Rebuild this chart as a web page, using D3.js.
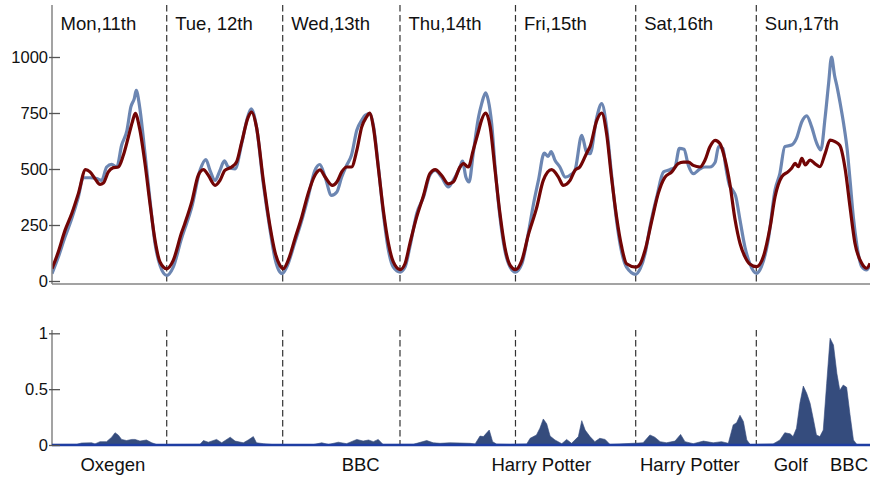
<!DOCTYPE html>
<html>
<head>
<meta charset="utf-8">
<script src="https://cdn.jsdelivr.net/npm/d3@7"></script>
<style>
  html, body { margin: 0; padding: 0; background: #fff; }
  svg { display: block; font-family: "Liberation Sans", Arial, Helvetica, sans-serif; }
</style>
</head>
<body>
<svg id="chart" width="870" height="477"></svg>
<script>
// Hours since the start of the week (Mon) where each new day begins
const dayStarts = [0, 23.56, 47.38, 71.47, 95.19, 119.88, 144.65];
const dayLabels = ["Mon,11th", "Tue, 12th", "Wed,13th", "Thu,14th", "Fri,15th", "Sat,16th", "Sun,17th"];

// Observed activity, [hour, value]
const observed = [
  [0,33],[1.3,107],[2.67,196],[4.04,278],[5.41,375],[6.43,461],[7.8,461],[9.17,457],[10.2,449],
  [11.23,509],[12.26,521],[13.3,509],[14.3,606],[15.4,673],[16.2,777],[16.9,814],[17.3,851],
  [18.0,777],[19.1,568],[20.13,360],[21.16,167],[22.18,70],[23.55,25],
  [24.9,62],[26.6,190],[27.3,235],[28.7,330],[30.4,494],[31.6,542],[32.45,494],[33.5,449],
  [34.5,494],[35.4,536],[36.2,509],[37.6,501],[38.96,613],[40.0,717],[40.9,769],[42.0,687],
  [43.4,434],[44.8,226],[45.8,100],[46.8,40],[47.3,33],[48.2,62],[49.9,174],[51.3,271],
  [52.6,375],[54.0,494],[55.0,520],
  [56.1,464],[57.4,382],[58.5,397],[59.5,464],[60.5,516],[61.5,561],[62.6,673],[63.6,717],
  [64.3,740],[65.3,747],[66.0,695],[67.0,516],[68.05,301],[69.1,137],[70.1,62],[71.5,40],
  [72.5,62],[73.5,152],[74.9,301],[76.3,375],[77.6,472],[78.7,494],[80.0,464],[81.4,420],
  [82.4,449],[83.8,509],[84.3,535],[85.0,464],[85.65,442],[86.5,568],[87.6,732],[88.25,792],
  [89.07,840],[89.6,807],[90.3,702],[91.0,509],[92.0,286],[93.0,137],[94.1,62],[95.2,40],
  [96.5,77],[97.8,211],[98.9,345],[99.9,449],[101.1,571],[101.9,556],[102.5,578],[103.3,539],
  [104.3,509],[105.4,464],[106.4,472],[107.4,494],[108.8,650],[109.8,575],[110.5,568],
  [111.9,732],[112.9,792],[113.9,687],[114.9,479],[115.9,278],[117.0,129],[118.0,62],
  [119.9,30],[120.8,55],[121.8,122],[122.8,241],[124.2,375],[125.6,487],[126.9,497],
  [127.95,509],[128.85,592],[129.8,588],[130.7,516],[131.7,479],[133.1,501],[134.1,509],
  [135.1,509],[136.2,530],[136.9,600],[137.8,592],[138.3,520],[139.1,430],[139.8,405],
  [140.4,380],[141.3,272],[142.3,153],[143.3,79],[144.7,34],
  [145.7,64],[147.1,183],[148.5,406],[149.5,481],[150.5,600],[151.9,607],[152.9,637],
  [154.0,711],[155.0,737],[156.0,689],[157.05,615],[157.9,585],[158.8,734],[159.5,882],
  [160.1,1000],[160.7,920],[161.3,860],[161.9,790],[162.6,700],[163.3,590],[163.9,450],
  [164.6,280],[165.3,160],[166.3,64],[167.3,49],[168,71]
];

// Expected (baseline) activity, [hour, value]
const expected = [
  [0,55],[1.3,130],[2.67,226],[4.04,300],[5.41,390],[6.9,497],[7.8,487],[8.83,457],[9.86,431],
  [10.54,437],[11.57,487],[12.6,506],[13.62,509],[14.65,561],[15.68,643],[16.5,710],[17.1,748],
  [18.0,680],[19.1,524],[20.13,345],[21.16,182],[22.18,85],[23.55,55],
  [24.9,92],[26.6,215],[27.3,258],[28.7,353],[30.05,472],[31.1,497],[32.1,472],[33.5,427],
  [34.5,449],[35.5,494],[36.9,509],[37.9,531],[38.96,620],[40.3,732],[41.0,754],[42.0,687],
  [43.4,449],[44.8,241],[45.8,129],[46.8,70],[47.5,55],[48.5,92],[49.9,189],[51.3,286],
  [52.6,390],[54.0,472],[55.04,496],
  [56.1,464],[57.6,427],[58.5,442],[59.5,487],[60.5,509],[61.5,509],[62.6,583],[63.6,687],
  [64.6,732],[65.2,750],[66.0,687],[67.0,509],[68.05,315],[69.1,167],[70.1,85],[71.5,51],
  [72.5,77],[73.5,167],[74.9,286],[76.3,382],[77.6,479],[78.7,497],[80.0,472],[81.4,434],
  [82.4,442],[83.8,509],[84.5,524],[85.5,509],[86.5,583],[87.55,665],[88.2,717],[89.07,750],
  [90.0,687],[91.0,494],[92.0,301],[93.0,152],[94.1,70],[95.2,51],
  [96.5,92],[97.8,204],[99.5,324],[100.9,449],[102.6,497],[104.0,464],[105.0,427],[106.4,449],
  [107.4,494],[108.4,509],[109.9,575],[110.5,600],[111.9,717],[112.9,750],[113.9,658],
  [114.9,464],[115.95,286],[117.0,152],[118.0,77],[119.9,62],
  [120.8,77],[121.8,137],[123.2,271],[124.5,390],[125.9,464],[127.3,487],[128.6,524],
  [129.7,531],[130.7,531],[131.7,516],[133.1,509],[134.1,539],[135.1,598],[136.2,628],
  [137.2,613],[138.2,545],[139.2,436],[140.3,272],[141.3,168],[142.3,109],[143.3,76],[144.7,64],
  [146.1,109],[147.5,243],[148.5,376],[149.9,466],[151.2,488],[151.9,503],[152.6,525],
  [153.3,510],[154.0,548],[154.7,518],[155.7,540],[156.8,522],[157.7,510],[158.8,570],
  [159.8,629],[160.8,622],[161.8,605],
  [162.9,500],[163.9,330],[164.9,170],[166.3,79],[167.3,57],[168,79]
];

// Anomaly score, [hour, value]
const anomaly = [
  [0,0.005],[5.07,0.006],[6.1,0.018],[8.15,0.02],[8.83,0.01],[9.86,0.03],[11.2,0.03],[12.26,0.07],
  [12.94,0.11],[13.6,0.09],[14.3,0.05],[15.3,0.04],[16.4,0.05],[17.05,0.05],[18.07,0.035],
  [19.4,0.045],[20.5,0.02],[21.5,0.004],[30.4,0.006],[31.1,0.04],[32.1,0.025],[33.8,0.05],
  [34.85,0.02],[36.6,0.07],[37.6,0.035],[39.3,0.02],[40.3,0.045],[41.35,0.075],[42.0,0.02],
  [43.4,0.012],[45.5,0.003],[53.7,0.004],[55.4,0.02],[56.8,0.005],[58.8,0.025],[60.5,0.012],
  [62.6,0.05],[63.9,0.035],[65.0,0.045],[66.0,0.03],[67.0,0.05],[68.0,0.005],[74.2,0.006],
  [74.9,0.015],[76.96,0.04],[78.3,0.02],[79.7,0.015],[81.7,0.02],[83.8,0.018],[85.85,0.015],
  [86.9,0.01],[87.9,0.08],[88.6,0.075],[89.1,0.10],[89.8,0.134],[90.5,0.03],[91.3,0.008],
  [94.1,0.005],[97.5,0.01],[98.2,0.06],[99.5,0.09],[100.2,0.15],[100.9,0.233],[101.6,0.19],
  [102.3,0.08],[103.3,0.045],[104.7,0.012],[105.7,0.05],[106.7,0.015],[108.1,0.075],
  [108.8,0.218],[109.5,0.134],[110.5,0.075],[111.5,0.03],[112.5,0.06],[113.6,0.05],
  [114.6,0.005],[121.4,0.02],[122.8,0.09],[123.8,0.07],[124.9,0.03],[126.2,0.02],[127.95,0.035],
  [129.1,0.095],[130.0,0.03],[131.7,0.012],[133.8,0.035],[135.8,0.02],[137.5,0.03],[138.9,0.015],
  [139.9,0.18],[140.6,0.2],[141.3,0.266],[142.0,0.21],[142.7,0.045],[143.4,0.004],[148.1,0.01],
  [149.5,0.045],[150.5,0.11],[151.6,0.10],[152.2,0.075],[152.9,0.15],[153.6,0.373],[154.3,0.528],
  [155.0,0.463],[155.7,0.373],[156.4,0.224],[157.0,0.09],[157.7,0.075],[158.4,0.134],
  [159.1,0.55],[159.8,0.955],[160.5,0.895],[161.2,0.64],[161.8,0.49],[162.5,0.537],
  [163.2,0.516],[163.9,0.27],[164.6,0.045],[165.3,0.005],[168,0.003]
];

// Event annotations under the lower panel, [hour at label centre, text]
const events = [[12.5,"Oxegen"],[63.4,"BBC"],[100.5,"Harry Potter"],[131.0,"Harry Potter"],[151.7,"Golf"],[163.7,"BBC"]];

const topTicks = [0, 250, 500, 750, 1000];
const bottomTicks = [0, 0.5, 1];

const svg = d3.select("#chart");
const x = d3.scaleLinear().domain([0, 168]).range([52, 870]);
const yTop = d3.scaleLinear().domain([0, 1000]).range([281, 57]);
const yBot = d3.scaleLinear().domain([0, 1]).range([445, 333.3]);

const axisColor = "#858585";

svg.append("defs").append("clipPath").attr("id", "plotClip")
  .append("rect").attr("x", 52).attr("y", 0).attr("width", 818).attr("height", 477);

// ---------- upper panel ----------
const upper = svg.append("g");

// day dividers
upper.selectAll("line.div").data(dayStarts.slice(1)).join("line")
  .attr("x1", d => x(d)).attr("x2", d => x(d))
  .attr("y1", 5).attr("y2", 284)
  .attr("stroke", "#333").attr("stroke-width", 1.2).attr("stroke-dasharray", "6.5,3.5");

// day labels
upper.selectAll("text.day").data(dayStarts).join("text")
  .attr("x", d => x(d) + 8.5).attr("y", 29.5)
  .attr("font-size", "18.5px").attr("fill", "#111")
  .text((d, i) => dayLabels[i]);

const lineTop = d3.line().x(d => x(d[0])).y(d => yTop(d[1])).curve(d3.curveMonotoneX);
const lines = upper.append("g").attr("clip-path", "url(#plotClip)");
lines.append("path").datum(observed).attr("d", lineTop)
  .attr("fill", "none").attr("stroke", "#6c86b2").attr("stroke-width", 3.2)
  .attr("stroke-linejoin", "round");
lines.append("path").datum(expected).attr("d", lineTop)
  .attr("fill", "none").attr("stroke", "#720505").attr("stroke-width", 3.2)
  .attr("stroke-linejoin", "round");

// axes
upper.append("line").attr("x1", 52).attr("x2", 52).attr("y1", 5).attr("y2", 284)
  .attr("stroke", axisColor).attr("stroke-width", 1.5);
upper.append("line").attr("x1", 52).attr("x2", 870).attr("y1", 284).attr("y2", 284)
  .attr("stroke", axisColor).attr("stroke-width", 1.5);

const axTop = upper.append("g").attr("transform", "translate(52,0)")
  .call(d3.axisLeft(yTop).tickValues(topTicks).tickFormat(d3.format("d"))
    .tickSizeInner(-8).tickSizeOuter(0).tickPadding(4));
axTop.select(".domain").remove();
axTop.selectAll(".tick line").attr("x1", -3).attr("x2", 8).attr("stroke", "#555").attr("stroke-width", 1.3);
axTop.selectAll(".tick text").attr("font-size", "16.5px").attr("fill", "#111")
  .attr("font-family", "Liberation Sans, Arial, sans-serif");

// ---------- lower panel ----------
const lower = svg.append("g");

lower.selectAll("line.div").data(dayStarts.slice(1)).join("line")
  .attr("x1", d => x(d)).attr("x2", d => x(d))
  .attr("y1", 330).attr("y2", 445)
  .attr("stroke", "#333").attr("stroke-width", 1.2).attr("stroke-dasharray", "6.5,3.5");

const area = d3.area().x(d => x(d[0])).y0(yBot(0)).y1(d => yBot(d[1])).curve(d3.curveLinear);
lower.append("path").datum(anomaly).attr("d", area)
  .attr("clip-path", "url(#plotClip)")
  .attr("fill", "#354c7d").attr("stroke", "#354c7d").attr("stroke-width", 0.6);

lower.append("line").attr("x1", 52).attr("x2", 52).attr("y1", 330).attr("y2", 445)
  .attr("stroke", axisColor).attr("stroke-width", 1.5);
lower.append("line").attr("x1", 52).attr("x2", 870).attr("y1", yBot(0)).attr("y2", yBot(0))
  .attr("stroke", "#1e3da3").attr("stroke-width", 2.6);

const axBot = lower.append("g").attr("transform", "translate(52,0)")
  .call(d3.axisLeft(yBot).tickValues(bottomTicks).tickFormat(d3.format("")).tickSizeInner(-8).tickSizeOuter(0).tickPadding(4));
axBot.select(".domain").remove();
axBot.selectAll(".tick line").attr("x1", -3).attr("x2", 8).attr("stroke", "#555").attr("stroke-width", 1.3);
axBot.selectAll(".tick text").attr("font-size", "16.5px").attr("fill", "#111")
  .attr("font-family", "Liberation Sans, Arial, sans-serif");

// event labels
lower.selectAll("text.evt").data(events).join("text")
  .attr("x", d => x(d[0])).attr("y", 471)
  .attr("text-anchor", "middle").attr("font-size", "18.5px").attr("fill", "#111")
  .text(d => d[1]);
</script>
</body>
</html>
